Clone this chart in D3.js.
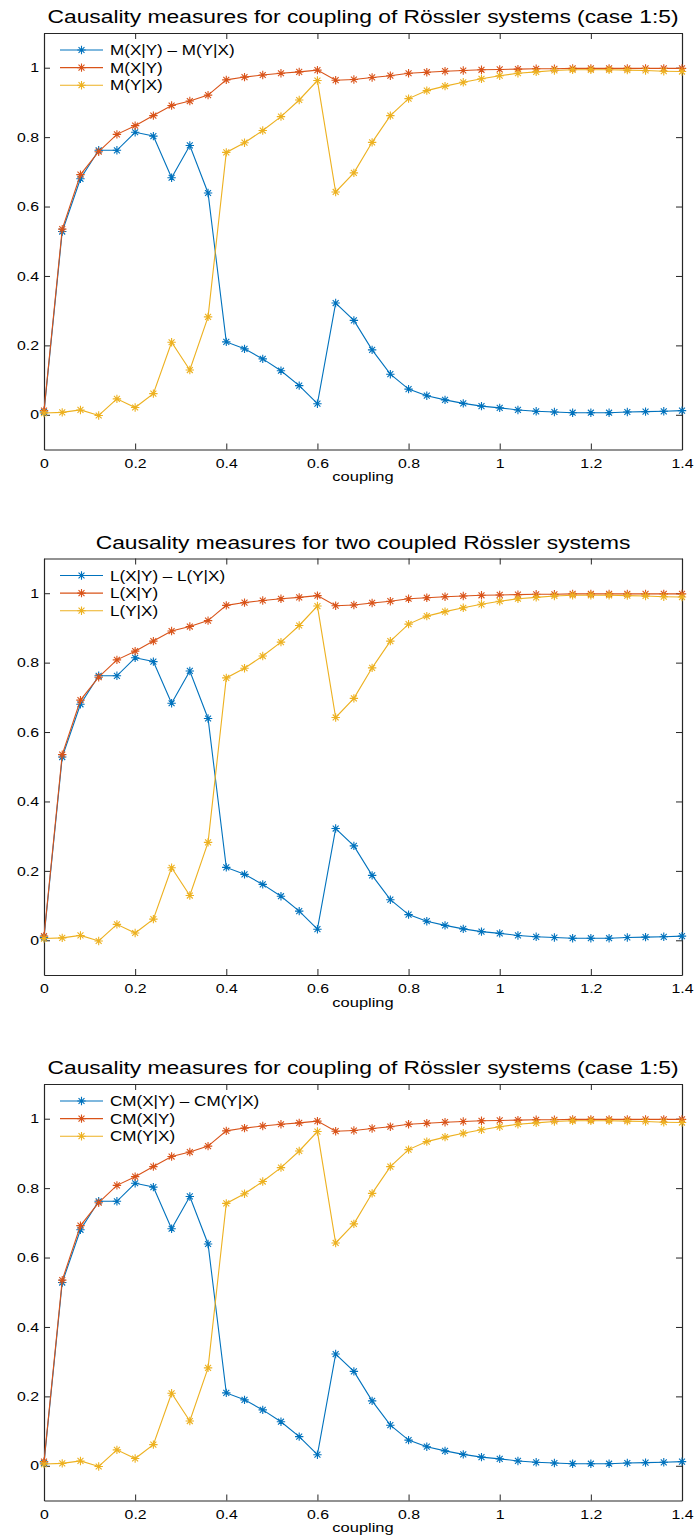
<!DOCTYPE html>
<html>
<head>
<meta charset="utf-8">
<script src="https://cdnjs.cloudflare.com/ajax/libs/d3/7.8.5/d3.min.js"></script>
<style>
  body { margin: 0; background: #fff; }
  svg text { font-family: "Liberation Sans", Arial, sans-serif; fill: #000; }
</style>
</head>
<body>
<div id="chart-area"></div>
<script>
// values (same curves in all three panels)
const coupling = [0, 0.04, 0.08, 0.12, 0.16, 0.2, 0.24, 0.28, 0.32, 0.36, 0.4, 0.44,
  0.48, 0.52, 0.56, 0.6, 0.64, 0.68, 0.72, 0.76, 0.8, 0.84, 0.88, 0.92,
  0.96, 1.0, 1.04, 1.08, 1.12, 1.16, 1.2, 1.24, 1.28, 1.32, 1.36, 1.4];

const diffXY = [0.008, 0.528, 0.68, 0.762, 0.762, 0.814, 0.803, 0.683, 0.776, 0.639, 0.21, 0.19,
  0.161, 0.127, 0.084, 0.032, 0.322, 0.272, 0.187, 0.117, 0.074, 0.055, 0.043, 0.033,
  0.025, 0.02, 0.014, 0.01, 0.008, 0.006, 0.006, 0.006, 0.008, 0.009, 0.01, 0.012];

const measXY = [0.012, 0.535, 0.692, 0.758, 0.808, 0.833, 0.862, 0.891, 0.904, 0.921, 0.965, 0.973,
  0.979, 0.984, 0.988, 0.993, 0.964, 0.966, 0.972, 0.977, 0.984, 0.987, 0.99, 0.992,
  0.994, 0.995, 0.996, 0.997, 0.997, 0.998, 0.998, 0.998, 0.998, 0.998, 0.998, 0.998];

const measYX = [0.005, 0.007, 0.014, -0.002, 0.046, 0.021, 0.061, 0.209, 0.129, 0.282, 0.756, 0.784,
  0.819, 0.859, 0.907, 0.963, 0.642, 0.697, 0.785, 0.862, 0.911, 0.934, 0.947, 0.958,
  0.968, 0.977, 0.984, 0.988, 0.992, 0.994, 0.994, 0.994, 0.993, 0.992, 0.99, 0.989];

const xTicks = [0, 0.2, 0.4, 0.6, 0.8, 1, 1.2, 1.4];
const xTickLabels = ["0", "0.2", "0.4", "0.6", "0.8", "1", "1.2", "1.4"];
const yTicks = [0, 0.2, 0.4, 0.6, 0.8, 1];
const yTickLabels = ["0", "0.2", "0.4", "0.6", "0.8", "1"];

const titles = [
  "Causality measures for coupling of Rössler systems (case 1:5)",
  "Causality measures for two coupled Rössler systems",
  "Causality measures for coupling of Rössler systems (case 1:5)"
];
const legendLabels = [
  ["M(X|Y) – M(Y|X)", "M(X|Y)", "M(Y|X)"],
  ["L(X|Y) – L(Y|X)", "L(X|Y)", "L(Y|X)"],
  ["CM(X|Y) – CM(Y|X)", "CM(X|Y)", "CM(Y|X)"]
];
const seriesColors = ["#0072BD", "#D95319", "#EDB120"];
const xLabel = "coupling";

let d3 = window.d3;
const W = 696, H = 1537;
const SX = 1.22; // glyphs in the picture are stretched sideways
let margin = { left: 44, right: 14, top: 33, bottom: 0 };
let width = 682 - margin.left,
    height = 449.5 - margin.top;
const panelStep = 525.5;

let svg = d3.select("#chart-area")
  .append("svg")
    .attr("width", W)
    .attr("height", H);

let x = d3.scaleLinear().domain([0, 1.4]).range([0, width]);
let y = d3.scaleLinear().domain([-0.1, 1.1]).range([height, 0]);

function star(r) {
  let a = r * 0.707;
  return `M0,${-r}V${r}M${-r},0H${r}M${-a},${-a}L${a},${a}M${-a},${a}L${a},${-a}`;
}

function stretchedText(parent, tx, ty, str, size, anchor) {
  return parent.append("text")
    .attr("transform", `translate(${tx},${ty}) scale(${SX},1)`)
    .attr("font-size", size + "px")
    .attr("text-anchor", anchor)
    .text(str);
}

function styleAxis(g) {
  g.selectAll("path.domain").attr("stroke", "#262626").attr("stroke-width", 1.2);
  g.selectAll(".tick line").attr("stroke", "#262626").attr("stroke-width", 1);
}

titles.forEach((title, p) => {
  let group = svg.append("g")
    .attr("transform", `translate(${margin.left}, ${margin.top + p * panelStep})`);

  // title
  stretchedText(group, width / 2, -10, title, 18.7, "middle");

  // axes, ticks pointing inward, box on
  let bottom = group.append("g")
    .attr("transform", `translate(0, ${height})`)
    .call(d3.axisBottom(x).tickValues(xTicks)
      .tickFormat((d, i) => xTickLabels[i])
      .tickSizeInner(-6).tickSizeOuter(0).tickPadding(9));
  bottom.selectAll("text")
    .attr("font-size", "13px")
    .attr("fill", "#000")
    .attr("transform", `scale(${SX},1)`);
  styleAxis(bottom);

  let left = group.append("g")
    .call(d3.axisLeft(y).tickValues(yTicks)
      .tickFormat((d, i) => yTickLabels[i])
      .tickSizeInner(-6).tickSizeOuter(0).tickPadding(5));
  left.selectAll("text")
    .attr("font-size", "13px")
    .attr("fill", "#000")
    .attr("x", -5 / SX)
    .attr("transform", `scale(${SX},1)`);
  styleAxis(left);

  let top = group.append("g")
    .call(d3.axisTop(x).tickValues(xTicks).tickFormat("")
      .tickSizeInner(-6).tickSizeOuter(0));
  styleAxis(top);

  let right = group.append("g")
    .attr("transform", `translate(${width}, 0)`)
    .call(d3.axisRight(y).tickValues(yTicks).tickFormat("")
      .tickSizeInner(-6).tickSizeOuter(0));
  styleAxis(right);

  // x label
  stretchedText(group, width / 2, height + 31.5, xLabel, 13.5, "middle");

  // series
  let seriesData = [diffXY, measXY, measYX];
  let line = d3.line()
    .x((d, i) => x(coupling[i]))
    .y(d => y(d));

  seriesData.forEach((vals, s) => {
    group.append("path")
      .datum(vals)
      .attr("fill", "none")
      .attr("stroke", seriesColors[s])
      .attr("stroke-width", 1.1)
      .attr("d", line);

    group.selectAll(null)
      .data(vals)
      .enter()
      .append("path")
        .attr("transform", (d, i) => `translate(${x(coupling[i])}, ${y(d)})`)
        .attr("d", star(4.2))
        .attr("fill", "none")
        .attr("stroke", seriesColors[s])
        .attr("stroke-width", 1.1);
  });

  // legend
  let legend = group.append("g").attr("transform", "translate(16, 17)");
  legendLabels[p].forEach((label, s) => {
    let row = legend.append("g").attr("transform", `translate(0, ${s * 17.6})`);
    row.append("line")
      .attr("x1", 0).attr("x2", 43)
      .attr("stroke", seriesColors[s])
      .attr("stroke-width", 1.1);
    row.append("path")
      .attr("transform", "translate(21.5, 0)")
      .attr("d", star(4.2))
      .attr("fill", "none")
      .attr("stroke", seriesColors[s])
      .attr("stroke-width", 1.1);
    stretchedText(row, 50, 5, label, 14, "start");
  });
});
</script>
</body>
</html>
